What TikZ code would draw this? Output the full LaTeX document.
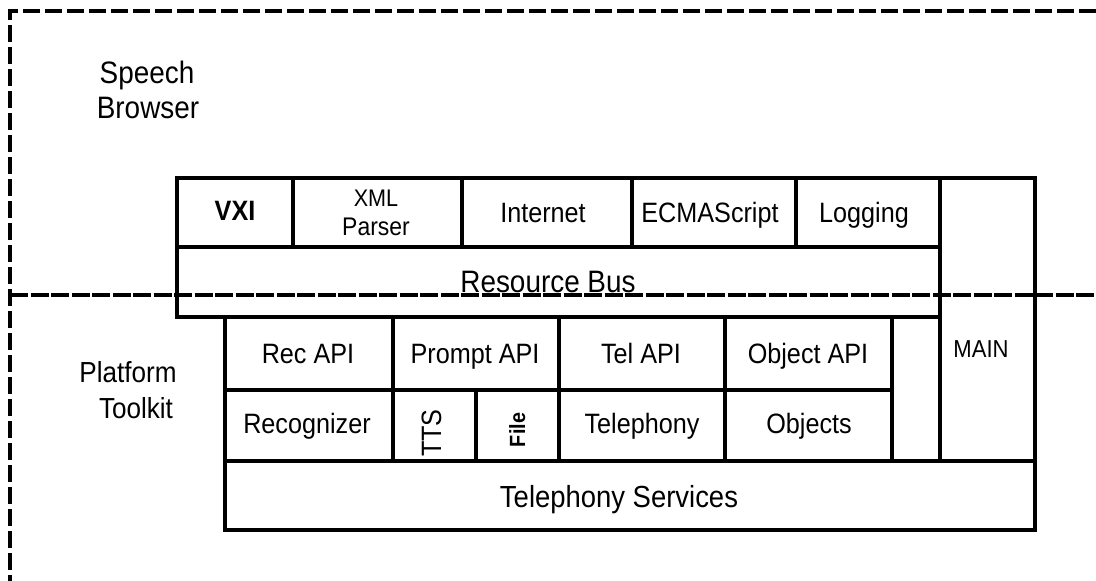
\documentclass[tikz,border=0pt]{standalone}
\usepackage{fontspec}
\setmainfont[FakeStretch=0.9]{Liberation Sans}
\begin{document}
\begin{tikzpicture}[x=1pt,y=-1pt,
  box/.style={draw, line width=4pt, inner sep=0pt, outer sep=0pt},
  txt/.style={inner sep=0pt, anchor=base, font=\fontsize{28}{32}\selectfont},
  lbl/.style={inner sep=0pt, anchor=base},
  frameline/.style={line width=3.6pt, dash pattern=on 17pt off 5pt},
  busline/.style={line width=3.4pt, dash pattern=on 18pt off 2.5pt}
]
\useasboundingbox (0,0) rectangle (1096,581);

% one cell of the layer diagram: name, left, top, right, bottom
\newcommand\blockcell[5]{%
  \node[box, minimum width={(#4-#2)*1pt}, minimum height={(#5-#3)*1pt}]
    (#1) at ({(#2+#4)/2},{(#3+#5)/2}) {};}

% speech browser layer
\blockcell{vxi}{177}{178}{293}{247}
\blockcell{xml}{293}{178}{462}{247}
\blockcell{internet}{462}{178}{632}{247}
\blockcell{ecma}{632}{178}{796}{247}
\blockcell{logging}{796}{178}{940}{247}
\blockcell{bus}{177}{247}{940}{317}
\blockcell{main}{940}{178}{1035}{461}

% platform toolkit layer
\blockcell{recapi}{225}{317}{393}{390}
\blockcell{promptapi}{393}{317}{559}{390}
\blockcell{telapi}{559}{317}{725}{390}
\blockcell{objapi}{725}{317}{892}{390}
\blockcell{spare}{892}{317}{940}{461}
\blockcell{recog}{225}{390}{393}{461}
\blockcell{tts}{393}{390}{476}{461}
\blockcell{file}{476}{390}{559}{461}
\blockcell{telephony}{559}{390}{725}{461}
\blockcell{objects}{725}{390}{892}{461}
\blockcell{services}{225}{461}{1035}{530}

% cell texts
\node[txt, font=\fontsize{28}{32}\selectfont\bfseries] (tvxi) at (235,220) {VXI};
\node[lbl, font=\fontsize{24}{28}\selectfont] (txml) at (376,206) {XML};
\node[lbl, font=\fontsize{25.5}{28}\selectfont] (tparser) at (376,235) {Parser};
\node[txt] (tinternet) at (543,222) {Internet};
\node[txt] (tecma) at (710,222) {ECMAScript};
\node[txt] (tlogging) at (864,222) {Logging};
\node[lbl, font=\fontsize{31}{34}\selectfont] (tbus) at (548,292) {Resource Bus};
\node[lbl, font=\fontsize{24.5}{28}\selectfont] (tmain) at (981,357) {MAIN};

\node[txt] (trecapi) at (308,363) {Rec API};
\node[txt] (tpromptapi) at (475,363) {Prompt API};
\node[txt] (ttelapi) at (641,363) {Tel API};
\node[txt] (tobjapi) at (808,363) {Object API};
\node[txt] (trecog) at (307,433) {Recognizer};
\node[inner sep=0pt, rotate=90, font=\fontsize{28}{32}\selectfont,
      text height=20pt, text depth=0pt] (ttts) at (431,433) {TTS};
\node[inner sep=0pt, rotate=90, font=\fontsize{22}{26}\selectfont\bfseries,
      text height=16pt, text depth=0pt] (tfile) at (517,430) {File};
\node[txt] (ttelephony) at (642,433) {Telephony};
\node[txt] (tobjects) at (809,433) {Objects};
\node[txt, font=\fontsize{30.5}{34}\selectfont] (tservices) at (619,507) {Telephony Services};

% layer names
\node[lbl, font=\fontsize{31}{34}\selectfont] (speech) at (147,83) {Speech};
\node[lbl, font=\fontsize{31}{34}\selectfont] (browser) at (148,118) {Browser};
\node[lbl, font=\fontsize{29}{32}\selectfont] (platform) at (128,382) {Platform};
\node[lbl, font=\fontsize{29}{32}\selectfont] (toolkit) at (136,418) {Toolkit};

% dashed frame and layer boundary
\draw[frameline] (1096,11) -- (10,11) -- (10,581);
\draw[busline] (10,295) -- (1096,295);
\end{tikzpicture}
\end{document}
